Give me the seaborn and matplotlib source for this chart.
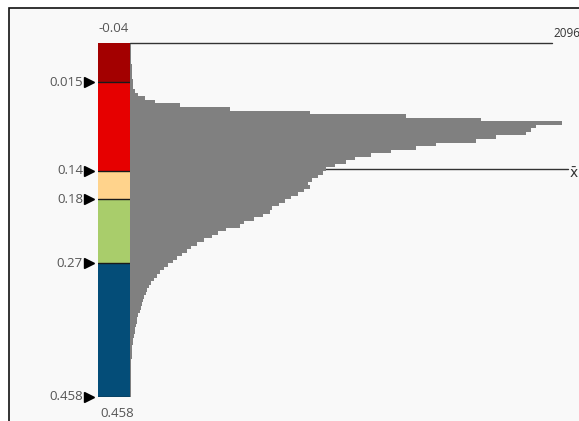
import numpy as np
import pandas as pd
import matplotlib
matplotlib.use("Agg")
import matplotlib.pyplot as plt
import seaborn as sns
from matplotlib.patches import Rectangle
from matplotlib.transforms import blended_transform_factory

# histogram bins (value axis runs top -> bottom)
bin_start = -0.04
bin_width = 0.005
counts = [5, 5, 5, 5, 7, 7, 10, 10, 10, 12,
          15, 15, 15, 24, 39, 73, 122, 243, 486, 875,
          1337, 1702, 2096, 1970, 1945, 1921, 1775, 1678, 1483, 1386,
          1264, 1167, 1094, 1046, 997, 953, 934, 914, 885, 866,
          875, 846, 817, 783, 754, 725, 691, 681, 647, 603,
          554, 535, 467, 428, 399, 360, 326, 297, 277, 253,
          229, 209, 185, 165, 146, 131, 117, 102, 92, 83,
          78, 68, 63, 58, 53, 49, 39, 34, 34, 29,
          24, 24, 19, 15, 15, 12, 12, 10, 10, 7,
          7, 7, 5, 5, 5, 4, 4, 3, 3, 3]

# colour classes
breaks = [-0.04, 0.015, 0.14, 0.18, 0.27, 0.458]
class_colors = ["#a30000", "#e60000", "#ffd38c", "#a9cd6b", "#044d78"]
tick_values = [0.015, 0.14, 0.18, 0.27, 0.458]
tick_labels = ["0.015", "0.14", "0.18", "0.27", "0.458"]
max_count = 2096
mean_value = 0.137

edges = bin_start + bin_width * np.arange(len(counts) + 1)
centers = (edges[:-1] + edges[1:]) / 2
df = pd.DataFrame({"value": centers, "count": counts})

sns.set_style("white")
plt.rcParams["font.family"] = ["Open Sans", "DejaVu Sans"]

W, H = 579, 421
fig = plt.figure(figsize=(W / 100, H / 100), dpi=100)
fig.patch.set_facecolor("white")

def box(x0, y0, x1, y1):
    # pixel box (top-left origin) -> figure fraction
    return [x0 / W, 1 - y1 / H, (x1 - x0) / W, (y1 - y0) / H]

# frame
fig.patches.append(Rectangle((9 / W, -0.1), 1.2, 1 - 8.5 / H + 0.1,
                             transform=fig.transFigure, facecolor="#f9f9f9",
                             edgecolor="#111111", linewidth=1.2, zorder=-10))

text_color = "#555555"
fs = 9.5

# histogram
ax = fig.add_axes(box(130, 43, 579, 397))
ax.set_facecolor("none")
sns.histplot(data=df, y="value", weights="count", bins=edges.tolist(), ax=ax,
             color="#808080", alpha=1, edgecolor="none", linewidth=0)
ax.set_ylim(breaks[-1], breaks[0])
ax.set_xlim(0, max_count * 449 / 432)
ax.axis("off")

# max line and label
ax.plot([0, max_count * 422 / 432], [breaks[0], breaks[0]], color="#333333",
        lw=1, clip_on=False, zorder=3)
ax.text(max_count * 423 / 432, breaks[0] - 0.0135, str(max_count),
        fontsize=8.5, color="#333333", ha="left", va="center", clip_on=False)

# mean line and label
ax.plot([0, max_count * 438 / 432], [mean_value, mean_value], color="#333333",
        lw=1, clip_on=False, zorder=0.5)
ax.text(max_count * 439.5 / 432, mean_value + 0.006, "x\u0304", fontsize=10,
        color="#333333", ha="left", va="center", clip_on=False,
        family="DejaVu Sans")

# colour bar
cb = fig.add_axes(box(98, 43, 130, 397))
cb.set_facecolor("none")
for lo, hi, c in zip(breaks[:-1], breaks[1:], class_colors):
    cb.bar(0.5, hi - lo, bottom=lo, width=1, color=c, linewidth=0)
for b in breaks[1:]:
    cb.axhline(b, color="#1a1a1a", lw=1)
cb.set_xlim(0, 1)
cb.set_ylim(breaks[-1], breaks[0])
cb.axis("off")

tr = blended_transform_factory(cb.transAxes, cb.transData)
for v, lab in zip(tick_values, tick_labels):
    cb.plot(-0.27, v, marker=">", color="black", markersize=6.5,
            transform=tr, clip_on=False)
    cb.text(-0.47, v, lab, transform=tr, ha="right", va="center",
            fontsize=fs, color=text_color, clip_on=False)

cb.text(0.5, breaks[0] - 0.021, "-0.04", transform=tr, ha="center",
        va="center", fontsize=fs, color=text_color, clip_on=False)
cb.text(0.6, breaks[-1] + 0.023, "0.458", transform=tr, ha="center",
        va="center", fontsize=fs, color=text_color, clip_on=False)

fig.savefig("out.png", dpi=100)
